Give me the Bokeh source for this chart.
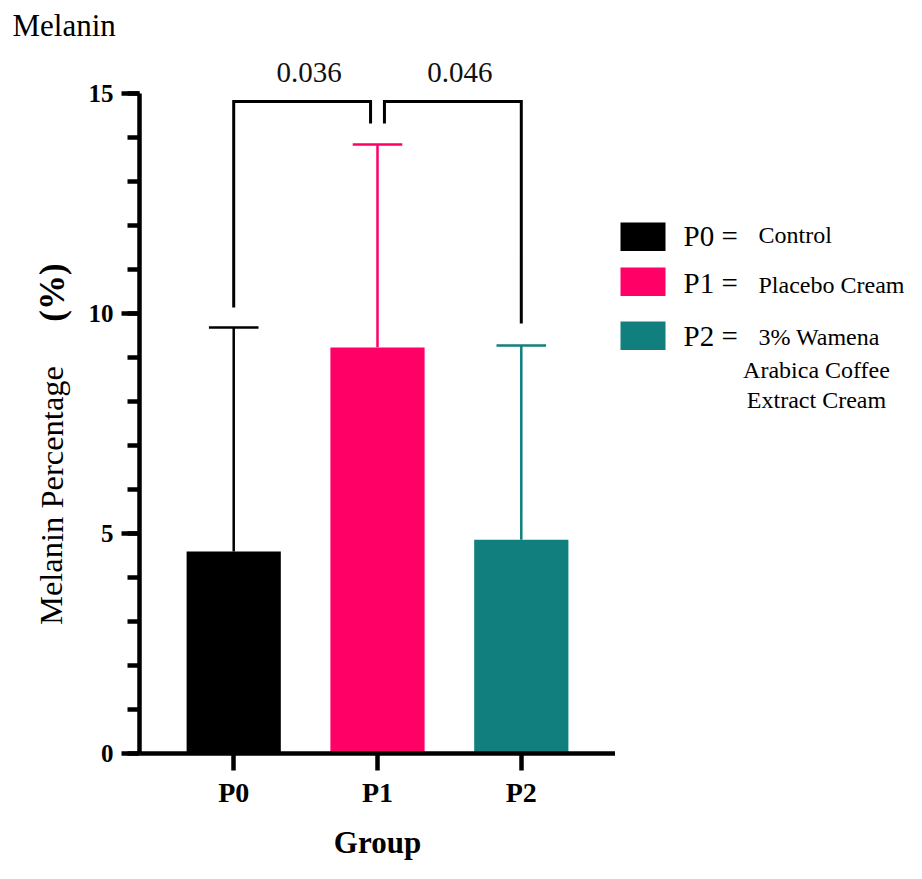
from bokeh.plotting import figure
from bokeh.layouts import row, column
from bokeh.models import Range1d, SingleIntervalTicker, FixedTicker, Label
from bokeh.embed import file_html
from bokeh.resources import INLINE

# ---------------- data ----------------
groups = ["P0", "P1", "P2"]
means = [4.59, 9.23, 4.86]
sds = [5.09, 4.61, 4.41]
colors = ["#000000", "#FF0066", "#117F7E"]
legend_codes = ["P0 =", "P1 =", "P2 ="]
legend_desc = [["Control"], ["Placebo Cream"], ["3% Wamena", "Arabica Coffee", "Extract Cream"]]
comparisons = [(0, 1), (1, 2)]
p_values = ["0.036", "0.046"]
y_axis_max = 15
y_major_interval = 5
title_text = "Melanin"
y_label_main = "Melanin Percentage"
y_label_unit = "(%)"
x_label = "Group"

FONT = "Liberation Serif"

# ---------------- layout (page pixels) ----------------
PX0, PXU = 230.0, 145.0     # x=1 at px 230, 145 px per category step
PY0, PYU = 753.0, 44.0      # y=0 at px 753, 44 px per unit
def X(px):
    return 1 + (px - PX0) / PXU
def Y(py):
    return (PY0 - py) / PYU

TOTAL_W = 906
TOP_H = 48                  # 0..48
BODY_H = 863 - TOP_H        # 48..863
FRAME_TOP, FRAME_BOTTOM = TOP_H, 753
LEFT_W = 85                 # 0..85
MAIN_W = 530                # 85..615
LEG_W = TOTAL_W - LEFT_W - MAIN_W   # 615..906


def blank(width, height, x0, x1, y0, y1, **kw):
    f = figure(width=width, height=height, x_range=Range1d(x0, x1), y_range=Range1d(y0, y1),
               output_backend="svg", toolbar_location=None, title=None,
               min_border_left=0, min_border_right=0, **kw)
    f.axis.visible = False
    f.grid.visible = False
    f.outline_line_color = None
    f.background_fill_color = "white"
    f.border_fill_color = "white"
    return f


def label(fig, x, y, text, size, style="normal", align="left", angle=0.0, color="black"):
    fig.add_layout(Label(x=x, y=y, text=text, angle=angle, text_align=align,
                         text_baseline="middle", text_font=FONT, text_font_style=style,
                         text_font_size=f"{size}px", text_color=color))


# ---- top strip with the chart title ----
top = blank(TOTAL_W, TOP_H, 0, TOTAL_W, TOP_H, 0, min_border_top=0, min_border_bottom=0)
label(top, 12, 25, title_text, 31)

row_kw = dict(min_border_top=0, min_border_bottom=TOP_H + BODY_H - FRAME_BOTTOM)

# ---- left strip with the y-axis title (frame aligned with main frame) ----
left = blank(LEFT_W, BODY_H, 0, LEFT_W, FRAME_BOTTOM, FRAME_TOP, **row_kw)
label(left, 51, 495, y_label_main, 32.5, align="center", angle=1.5707963)
label(left, 52, 292, y_label_unit, 35, style="bold", align="center", angle=1.5707963)

# ---- main plot ----
x_start, x_end = X(135), X(615)
y_end = (PY0 - FRAME_TOP) / PYU
p = figure(width=MAIN_W, height=BODY_H, x_range=Range1d(x_start, x_end), y_range=Range1d(0, y_end),
           output_backend="svg", toolbar_location=None, title=None,
           min_border_left=50, min_border_right=0, **row_kw)
p.xgrid.visible = False
p.ygrid.visible = False
p.outline_line_color = None
p.background_fill_color = "white"
p.border_fill_color = "white"

xs = [i + 1 for i in range(len(groups))]
tops = [m + s for m, s in zip(means, sds)]

p.vbar(x=xs, top=means, bottom=0, width=95 / PXU, fill_color=colors, line_color=None)

cap = 25 / PXU
p.segment(x0=xs, y0=means, x1=xs, y1=tops, line_color=colors, line_width=2.5)
p.segment(x0=[x - cap for x in xs], y0=tops, x1=[x + cap for x in xs], y1=tops,
          line_color=colors, line_width=2.5)

gap = 7 / PXU
bracket_top = Y(101)
inner_bottom = Y(123)
text_x = [X(306), X(458)]
for k, ((i, j), pv) in enumerate(zip(comparisons, p_values)):
    if k == 0:
        xl, yl = xs[i], tops[i] + 20 / PYU
        xr, yr = xs[j] - gap, inner_bottom
    else:
        xl, yl = xs[i] + gap, inner_bottom
        xr, yr = xs[j], tops[j] + 22 / PYU
    p.line(x=[xl, xl, xr, xr], y=[yl, bracket_top, bracket_top, yr],
           line_color="black", line_width=3, line_join="miter")
    label(p, text_x[k], Y(72), pv, 29, align="center", color="#111111")

yax = p.yaxis[0]
yax.ticker = SingleIntervalTicker(interval=y_major_interval, num_minor_ticks=5)
yax.bounds = (0, y_axis_max)
yax.axis_line_width = 4.5
yax.major_tick_line_width = 4.5
yax.minor_tick_line_width = 4.5
yax.major_tick_out = 18
yax.major_tick_in = 0
yax.minor_tick_out = 12
yax.minor_tick_in = 0
yax.major_label_text_font = FONT
yax.major_label_text_font_style = "bold"
yax.major_label_text_font_size = "25px"
yax.major_label_text_color = "black"
yax.major_label_standoff = 8

xax = p.xaxis[0]
xax.ticker = FixedTicker(ticks=xs)
xax.major_label_overrides = {x: g for x, g in zip(xs, groups)}
xax.axis_line_width = 4.5
xax.major_tick_line_width = 4.5
xax.minor_tick_line_color = None
xax.major_tick_out = 17
xax.major_tick_in = 0
xax.major_label_text_font = FONT
xax.major_label_text_font_style = "bold"
xax.major_label_text_font_size = "28px"
xax.major_label_text_color = "black"
xax.major_label_standoff = 6
xax.axis_label = x_label
xax.axis_label_text_font = FONT
xax.axis_label_text_font_style = "bold"
xax.axis_label_text_font_size = "31px"
xax.axis_label_text_color = "black"
xax.axis_label_standoff = 14

# ---- legend strip (frame aligned with main frame) ----
leg = blank(LEG_W, BODY_H, 615, 615 + LEG_W, FRAME_BOTTOM, FRAME_TOP, **row_kw)
box_tops = [222, 267, 321]
code_centers = [235, 282, 335]
desc_centers = [[234], [284], [336, 369, 399]]
for k in range(len(groups)):
    leg.quad(left=620, right=665, top=box_tops[k], bottom=box_tops[k] + 28.5,
             fill_color=colors[k], line_color=None)
    label(leg, 683, code_centers[k], legend_codes[k], 29)
    for li, line in enumerate(legend_desc[k]):
        label(leg, 758 if li == 0 else 816, desc_centers[k][li], line, 24,
              align="left" if li == 0 else "center")

layout = column(top, row(left, p, leg))
open("out.html", "w").write(file_html(layout, INLINE))
